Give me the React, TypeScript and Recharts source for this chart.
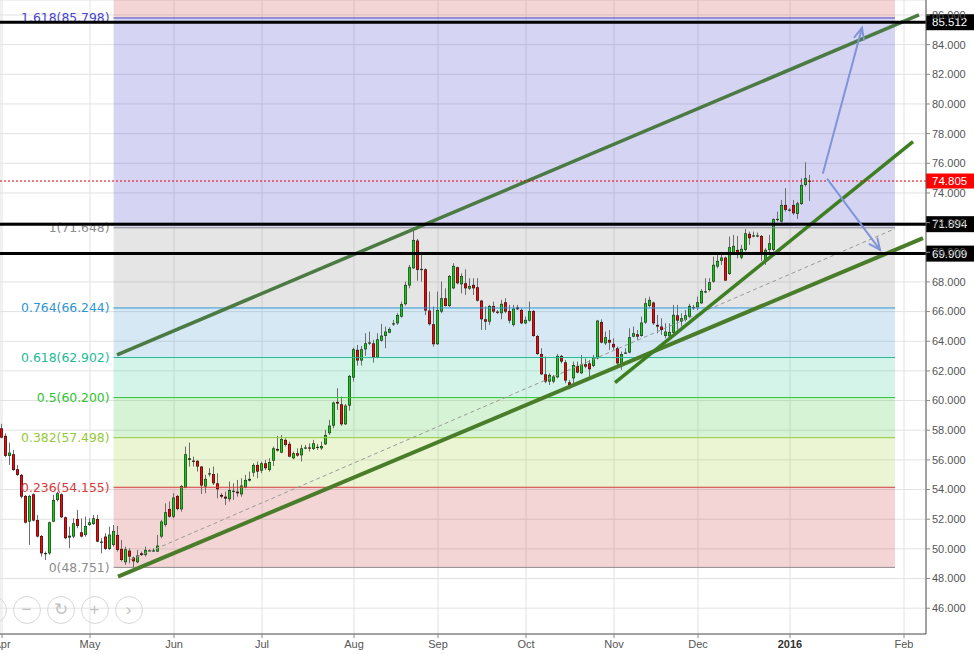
import React from 'react';
import { ComposedChart, Bar, XAxis, YAxis, CartesianGrid, ReferenceLine, ReferenceArea } from 'recharts';

// ---------- data ----------
const opens = [
  58.13, 57.62, 56.27, 56.38, 55.37, 54.99, 53.57, 51.84, 53.68, 51.95,
  50.87, 49.70, 49.70, 51.84, 53.30, 53.68, 52.13, 50.76, 50.83, 52.02,
  51.12, 50.94, 51.61, 51.68, 52.02, 50.42, 50.83, 50.00, 50.27, 50.94,
  50.00, 49.10, 49.88, 49.41, 49.10, 49.70, 49.59, 49.86, 49.86, 49.82,
  50.83, 51.62, 52.69, 52.17, 53.57, 52.67, 54.13, 56.00, 55.95, 55.93,
  55.55, 54.20, 55.07, 55.05, 54.42, 53.64, 53.52, 53.35, 53.88, 53.86,
  53.68, 54.13, 54.60, 55.14, 55.66, 55.28, 55.77, 55.32, 55.95, 56.74,
  56.49, 57.35, 57.08, 56.11, 56.45, 56.31, 56.80, 56.84, 56.74, 56.85,
  56.78, 57.05, 57.80, 58.31, 59.91, 59.75, 58.40, 59.66, 61.55, 63.42,
  62.70, 63.46, 63.88, 63.86, 62.90, 64.04, 64.36, 64.58, 65.15, 65.21,
  65.66, 66.50, 67.76, 68.92, 70.79, 68.85, 68.85, 66.07, 65.15, 63.80,
  66.00, 66.90, 66.38, 67.57, 68.99, 67.84, 67.91, 67.55, 67.80, 67.64,
  66.74, 65.48, 65.32, 66.38, 66.00, 65.89, 66.63, 66.04, 65.10, 66.29,
  66.11, 65.21, 65.39, 66.04, 64.35, 63.14, 61.77, 61.28, 61.28, 61.57,
  63.01, 62.58, 61.23, 61.50, 62.34, 61.84, 62.45, 62.51, 62.34, 62.85,
  65.30, 63.86, 64.09, 63.82, 63.53, 62.45, 63.19, 63.24, 64.31, 64.47,
  64.36, 65.26, 66.38, 66.61, 65.10, 64.99, 64.36, 64.33, 64.58, 65.75,
  65.33, 65.44, 65.66, 66.31, 66.29, 66.56, 67.33, 67.46, 68.02, 69.04,
  69.42, 69.64, 68.54, 69.93, 70.16, 69.64, 70.16, 71.24, 71.10, 71.12,
  71.10, 69.37, 70.16, 70.16, 72.21, 72.07, 73.19, 72.84, 73.19, 72.59,
  73.26, 74.54, 74.83,
];
const highs = [
  58.43, 57.79, 57.17, 56.67, 55.66, 55.05, 53.64, 53.64, 53.75, 52.29,
  50.94, 49.82, 51.84, 53.64, 53.86, 53.75, 52.18, 51.50, 52.06, 52.63,
  52.06, 52.18, 52.06, 52.29, 52.29, 50.72, 51.05, 51.50, 51.61, 51.55,
  50.60, 50.15, 50.04, 49.48, 49.93, 49.82, 50.15, 49.97, 50.04, 50.94,
  51.95, 53.07, 53.19, 53.75, 53.64, 54.31, 56.90, 57.17, 56.22, 56.00,
  55.59, 54.99, 55.44, 55.55, 55.10, 53.75, 53.86, 54.54, 54.42, 54.65,
  54.76, 54.99, 55.21, 55.77, 55.89, 55.89, 56.00, 56.11, 56.90, 57.62,
  57.68, 57.46, 57.23, 56.56, 56.78, 57.01, 57.01, 57.12, 57.35, 57.07,
  57.23, 58.02, 58.70, 59.93, 60.83, 60.27, 59.77, 61.73, 63.57, 63.75,
  63.68, 64.54, 64.65, 64.09, 64.54, 65.17, 64.99, 64.94, 65.44, 65.89,
  66.67, 68.02, 69.15, 71.65, 70.90, 69.93, 68.92, 67.35, 66.34, 67.35,
  68.02, 67.57, 68.47, 69.26, 69.03, 68.58, 68.85, 68.25, 68.25, 68.25,
  66.79, 66.34, 66.45, 66.67, 66.11, 66.79, 66.90, 66.45, 66.45, 66.45,
  66.22, 65.66, 66.67, 66.11, 64.43, 63.53, 62.96, 61.84, 61.73, 63.14,
  63.08, 62.74, 61.39, 62.63, 62.63, 63.08, 62.85, 62.74, 63.08, 65.44,
  65.48, 64.65, 64.76, 64.20, 63.64, 63.30, 63.53, 64.88, 64.99, 64.76,
  65.66, 66.90, 67.01, 66.67, 65.77, 65.55, 65.21, 65.21, 66.45, 66.45,
  65.89, 66.11, 66.52, 66.45, 67.01, 67.51, 68.25, 68.25, 69.71, 69.82,
  69.82, 69.71, 71.06, 71.17, 71.10, 70.50, 71.57, 71.39, 71.39, 71.33,
  71.17, 70.27, 71.17, 72.29, 72.74, 73.53, 74.32, 72.97, 73.53, 73.42,
  74.99, 76.07, 75.21,
];
const lows = [
  57.46, 56.18, 55.66, 55.26, 54.92, 53.41, 51.72, 50.27, 51.85, 50.78,
  49.48, 49.25, 49.59, 51.80, 53.19, 52.08, 50.65, 50.04, 50.72, 51.39,
  50.78, 50.83, 51.55, 51.61, 50.45, 49.70, 49.93, 49.93, 50.15, 49.82,
  49.14, 48.92, 49.03, 48.75, 49.03, 49.52, 49.48, 49.79, 49.82, 49.79,
  50.72, 51.50, 52.11, 52.06, 52.60, 52.51, 54.09, 55.55, 55.55, 55.21,
  53.70, 53.75, 54.87, 54.31, 53.41, 53.41, 52.96, 53.19, 53.30, 53.52,
  53.52, 54.09, 54.54, 54.87, 54.76, 55.10, 55.32, 55.21, 55.59, 56.56,
  56.45, 56.90, 56.18, 56.04, 56.22, 55.89, 56.72, 56.56, 56.67, 56.67,
  56.67, 57.01, 57.68, 58.13, 59.37, 58.29, 58.36, 59.32, 61.28, 62.36,
  62.36, 63.01, 63.75, 62.56, 62.85, 63.98, 63.53, 64.54, 65.03, 65.10,
  65.59, 66.40, 67.57, 68.88, 68.07, 68.02, 65.77, 65.06, 63.64, 63.75,
  65.89, 66.34, 66.29, 67.51, 67.84, 67.23, 67.12, 67.46, 67.12, 66.67,
  64.76, 64.76, 65.10, 65.89, 65.84, 65.48, 65.89, 65.21, 64.99, 66.11,
  65.15, 65.15, 65.32, 64.31, 63.08, 61.73, 61.17, 61.05, 61.17, 61.50,
  62.51, 61.17, 60.76, 60.94, 61.84, 61.80, 62.18, 61.62, 62.25, 62.78,
  63.86, 63.75, 63.42, 63.42, 62.29, 62.07, 63.14, 63.19, 64.27, 64.09,
  64.31, 65.17, 66.29, 65.10, 64.54, 64.43, 64.20, 64.29, 64.54, 64.77,
  64.99, 65.33, 65.55, 66.11, 66.11, 66.52, 67.24, 67.35, 67.95, 68.92,
  69.15, 68.07, 68.47, 69.82, 69.59, 69.53, 70.05, 70.50, 71.01, 71.01,
  69.42, 69.15, 69.93, 70.05, 72.07, 72.00, 72.74, 72.74, 72.52, 72.25,
  73.19, 74.43, 73.46,
];
const closes = [
  57.50, 56.27, 56.49, 55.32, 54.99, 53.52, 51.77, 53.57, 51.91, 50.83,
  49.70, 49.72, 51.79, 53.30, 53.75, 52.13, 50.72, 50.89, 51.73, 51.55,
  50.83, 51.55, 51.79, 52.06, 50.49, 50.49, 50.00, 50.96, 51.21, 49.93,
  49.25, 49.97, 49.48, 49.16, 49.55, 49.59, 49.93, 49.90, 49.90, 50.22,
  51.84, 52.47, 52.17, 53.46, 52.69, 54.24, 56.38, 56.11, 55.91, 55.55,
  54.27, 54.72, 55.10, 54.42, 54.02, 53.52, 53.39, 53.97, 53.92, 53.75,
  54.27, 54.65, 54.72, 55.66, 55.21, 55.77, 55.44, 55.86, 56.78, 56.63,
  57.41, 57.01, 56.22, 56.45, 56.29, 56.78, 56.84, 56.80, 57.12, 56.88,
  56.94, 57.68, 58.31, 59.86, 59.80, 58.40, 59.66, 61.66, 63.46, 62.70,
  63.46, 63.86, 63.92, 62.90, 64.13, 64.38, 64.65, 64.83, 65.21, 65.77,
  66.50, 67.80, 68.99, 70.83, 68.81, 68.88, 66.07, 65.15, 63.80, 66.11,
  66.90, 66.38, 68.40, 69.08, 67.91, 68.40, 67.57, 67.73, 67.57, 66.74,
  65.48, 65.32, 66.38, 66.00, 65.96, 66.52, 66.00, 65.39, 66.20, 66.16,
  65.21, 65.44, 66.04, 64.35, 63.14, 61.77, 61.28, 61.73, 61.62, 63.01,
  62.63, 61.35, 61.05, 62.40, 61.89, 62.45, 62.29, 62.11, 62.92, 65.39,
  63.91, 64.27, 63.91, 63.59, 62.51, 63.14, 63.24, 64.27, 64.54, 64.31,
  65.26, 66.56, 66.79, 65.21, 64.99, 64.76, 64.65, 64.63, 65.78, 65.39,
  65.55, 65.75, 66.38, 66.27, 66.63, 67.39, 67.37, 67.98, 69.15, 69.42,
  69.64, 68.09, 70.34, 70.43, 69.93, 70.23, 71.28, 70.95, 71.14, 71.14,
  69.82, 70.16, 70.61, 72.23, 72.25, 73.19, 72.86, 72.88, 72.63, 73.30,
  74.54, 74.99, 74.805,
];

// bar index of the first trading day of each month (Apr 2015 = 0)
const monthTicks = [0, 22, 43, 65, 88, 109, 131, 153, 174, 197, 225.5];
const monthLabels = ['Apr', 'May', 'Jun', 'Jul', 'Aug', 'Sep', 'Oct', 'Nov', 'Dec', '2016', 'Feb'];
const priceTicks = [46, 48, 50, 52, 54, 56, 58, 60, 62, 64, 66, 68, 70, 72, 74, 76, 78, 80, 82, 84, 86];

// Fibonacci retracement
const fibRatios = ['0', '0.236', '0.382', '0.5', '0.618', '0.764', '1', '1.618'];
const fibPrices = [48.751, 54.155, 57.498, 60.2, 62.902, 66.244, 71.648, 85.798];
const fibOuterPrice = 108.69; // 2.618 level (off-chart)
const fibSpan = [27.9, 223.25]; // bar indices

// horizontal key levels and last price
const keyLevels = [85.512, 71.894, 69.909];
const lastPrice = 74.805;

// trend lines: [barIndex, price] endpoints
const channelUpper = [[28.75, 63.08], [229.25, 86.0]];
const channelLower = [[29.0, 48.13], [230.25, 70.95]];
const steepSupport = [[153.25, 61.21], [227.75, 77.46]];
const midDashed = [[32, 49.25], [223.25, 71.59]];
const arrowUp = [[205.25, 75.35], [215, 85.13]];
const arrowDown = [[206.4, 74.92], [219.5, 70.16]];

// ---------- styles ----------
const fibLineColors = ['#8c8c8c', '#d43c3c', '#94c93a', '#2fc42f', '#22bb96', '#2f96d3', '#8c8c8c', '#4747cf'];
const fibBandColors = ['rgb(205,64,64)', 'rgb(164,210,60)', 'rgb(69,200,69)', 'rgb(64,205,155)', 'rgb(64,150,205)', 'rgb(137,137,137)', 'rgb(64,64,200)', 'rgb(205,64,64)'];
const GREEN = '#1fc41f';
const GREEN_EDGE = '#1e401e';
const RED = '#e01010';
const RED_EDGE = '#4a1010';
const WICK = '#6e6e6e';
const AXIS = '#555';
const SANS = 'Arial, "Liberation Sans", sans-serif';
const VERD = 'Verdana, "DejaVu Sans", sans-serif';

const candles = opens.map((o, i) => ({
  i,
  open: o,
  high: highs[i],
  low: lows[i],
  close: closes[i],
  range: [lows[i], highs[i]],
}));

const Candle = (props: any) => {
  const { x, y, width, height, payload } = props;
  if (x == null || y == null || !payload) return null;
  const top = Math.min(y, y + height);
  const h = Math.abs(height);
  const { open, close, high, low } = payload;
  const ppu = h / (high - low);
  const py = (v: number) => top + (high - v) * ppu;
  const up = close >= open;
  const cx = Math.floor(x + width / 2);
  const bTop = py(Math.max(open, close));
  const bBot = py(Math.min(open, close));
  const bh = Math.max(1.2, bBot - bTop);
  return (
    <g>
      <line x1={cx + 0.5} x2={cx + 0.5} y1={top} y2={top + h} stroke={WICK} strokeWidth={1} />
      <rect x={cx - 1} y={bTop} width={3} height={bh} fill={up ? GREEN_EDGE : RED_EDGE} />
      {bh > 2 && (
        <rect x={cx - 0.35} y={bTop + 0.7} width={1.7} height={bh - 1.4} fill={up ? GREEN : RED} />
      )}
    </g>
  );
};

const fibLabel = (text: string, color: string) => (p: any) => {
  const vb = p.viewBox || {};
  return (
    <text x={(vb.x ?? 0) - 4} y={vb.y ?? 0} dy="0.36em" textAnchor="end" fill={color} fontSize={12.4} fontFamily={VERD}>
      {text}
    </text>
  );
};

const priceTag = (text: string, bg: string, h: number) => (p: any) => {
  const vb = p.viewBox || {};
  const x = (vb.x ?? 0) + (vb.width ?? 0);
  const y = vb.y ?? 0;
  return (
    <g>
      <rect x={x} y={y - h / 2} width={48} height={h} fill={bg} />
      <text x={x + 6} y={y} dy="0.36em" fill="#fff" fontSize={11.5} fontFamily={SANS}>
        {text}
      </text>
    </g>
  );
};

const arrowShape = (p: any) => {
  const { x1, y1, x2, y2 } = p;
  if ([x1, y1, x2, y2].some((v) => v == null || isNaN(v))) return null;
  const a = Math.atan2(y2 - y1, x2 - x1);
  const L = 12;
  const s = 0.42;
  const hx1 = x2 - L * Math.cos(a - s);
  const hy1 = y2 - L * Math.sin(a - s);
  const hx2 = x2 - L * Math.cos(a + s);
  const hy2 = y2 - L * Math.sin(a + s);
  return (
    <g stroke="#7f95d8" strokeWidth={2} fill="none" strokeLinecap="round">
      <line x1={x1} y1={y1} x2={x2} y2={y2} />
      <polyline points={`${hx1},${hy1} ${x2},${y2} ${hx2},${hy2}`} />
    </g>
  );
};

const MonthTick = (p: any) => {
  const { x, y, payload, index } = p;
  const label = monthLabels[index] ?? '';
  const bold = label === '2016';
  return (
    <text x={x} y={y} dy="0.71em" textAnchor="middle" fill={bold ? '#333' : AXIS} fontSize={11} fontWeight={bold ? 700 : 400} fontFamily={SANS}>
      {label}
    </text>
  );
};

const seg = (pts: number[][]) => [
  { x: pts[0][0], y: pts[0][1] },
  { x: pts[1][0], y: pts[1][1] },
];

const navIcons = ['‹', '−', '↻', '+', '›'];

export default function App() {
  const bandLows = fibPrices;
  const bandHighs = [...fibPrices.slice(1), fibOuterPrice];
  return (
    <div style={{ position: 'absolute', left: 0, top: 0, width: 974, height: 654, background: '#fff', overflow: 'hidden' }}>
      <ComposedChart width={974} height={654} data={candles} margin={{ top: 0, right: 0, bottom: 0, left: 0 }}>
        <CartesianGrid stroke="#e2e2e2" strokeWidth={1} />
        <XAxis
          dataKey="i"
          type="number"
          domain={[-0.5, 231]}
          allowDataOverflow
          ticks={monthTicks}
          interval={0}
          height={20}
          tick={<MonthTick />}
          tickSize={4}
          stroke={AXIS}
          axisLine={{ stroke: AXIS }}
          tickLine={{ stroke: '#888' }}
        />
        <YAxis
          type="number"
          orientation="right"
          domain={[44.26, 87.01]}
          allowDataOverflow
          ticks={priceTicks}
          interval={0}
          width={48}
          tickSize={4}
          tickFormatter={(v: number) => v.toFixed(3)}
          tick={{ fill: AXIS, fontSize: 11, fontFamily: SANS }}
          axisLine={{ stroke: AXIS }}
          tickLine={{ stroke: '#888' }}
        />
        {bandLows.map((lo, k) => (
          <ReferenceArea
            key={'band' + k}
            x1={fibSpan[0]}
            x2={fibSpan[1]}
            y1={lo}
            y2={bandHighs[k]}
            fill={fibBandColors[k]}
            fillOpacity={0.22}
            stroke="none"
            ifOverflow="hidden"
          />
        ))}
        {fibPrices.map((v, k) => (
          <ReferenceLine
            key={'fib' + k}
            segment={[{ x: fibSpan[0], y: v }, { x: fibSpan[1], y: v }]}
            stroke={fibLineColors[k]}
            strokeWidth={1}
            label={fibLabel(`${fibRatios[k]}(${v.toFixed(3)})`, fibLineColors[k])}
          />
        ))}
        <Bar dataKey="range" barSize={3} isAnimationActive={false} shape={(p: any) => <Candle {...p} />} />
        <ReferenceLine segment={seg(midDashed)} stroke="#9a9a9a" strokeWidth={1} strokeDasharray="4 3" />
        <ReferenceLine segment={seg(channelUpper)} stroke="#4b7a43" strokeWidth={3.5} />
        <ReferenceLine segment={seg(channelLower)} stroke="#4a7d2a" strokeWidth={4} />
        <ReferenceLine segment={seg(steepSupport)} stroke="#3e7f22" strokeWidth={3.5} />
        <ReferenceLine y={lastPrice} stroke="#e00000" strokeWidth={1} strokeDasharray="2 2" label={priceTag(lastPrice.toFixed(3), '#ff0000', 15)} />
        {keyLevels.map((v, k) => (
          <ReferenceLine key={'key' + k} y={v} stroke="#000" strokeWidth={3} label={priceTag(v.toFixed(3), '#000', 16)} />
        ))}
        <ReferenceLine segment={seg(arrowUp)} shape={arrowShape} />
        <ReferenceLine segment={seg(arrowDown)} shape={arrowShape} />
      </ComposedChart>
      {navIcons.map((ic, k) => (
        <div
          key={'nav' + k}
          style={{
            position: 'absolute',
            left: -8 + k * 34 - 13.5,
            top: 609 - 13.5,
            width: 26,
            height: 26,
            borderRadius: '50%',
            border: '1px solid #d8d8d8',
            color: '#c2c2c2',
            fontFamily: SANS,
            fontSize: 17,
            lineHeight: '26px',
            textAlign: 'center',
          }}
        >
          {ic}
        </div>
      ))}
    </div>
  );
}
